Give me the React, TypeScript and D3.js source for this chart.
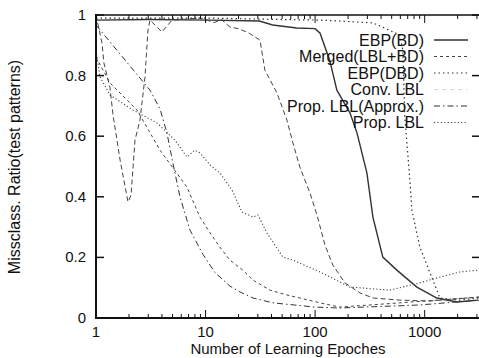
import React, { useEffect, useRef } from 'react';
import * as d3 from 'd3';

// [epoch, misclassification ratio]
const ebpBd = [
  [1, 0.983], [3, 0.985], [11, 0.983], [31, 0.98], [41, 0.967], [68, 0.957],
  [100, 0.955], [111, 0.94], [136, 0.85], [158, 0.752], [208, 0.677], [241, 0.611],
  [297, 0.479], [337, 0.333], [415, 0.201], [557, 0.158], [849, 0.102],
  [1292, 0.066], [1967, 0.053], [3124, 0.059],
];
const mergedLblBd = [
  [1, 0.861], [1.16, 0.818], [1.34, 0.776], [2.37, 0.686], [3.84, 0.554], [6.76, 0.432],
  [8.89, 0.333], [11, 0.281], [13.5, 0.234], [16.7, 0.191], [21.9, 0.158], [27.1, 0.125],
  [38.7, 0.092], [55.3, 0.076], [72.6, 0.066], [111, 0.05], [168, 0.036], [594, 0.05],
  [3124, 0.069],
];
const ebpDbd = [
  [1, 0.99], [10, 0.99], [50, 0.985], [118, 0.983], [337, 0.974], [594, 0.934],
  [632, 0.884], [659, 0.663], [733, 0.455], [764, 0.356], [904, 0.234], [1188, 0.125],
  [1377, 0.066], [2095, 0.059], [3124, 0.066],
];
const convLbl = [
  [1, 1.0], [1.134, 0.908], [1.18, 0.842], [1.34, 0.762], [1.43, 0.67], [1.66, 0.521],
  [1.96, 0.383], [2.09, 0.406], [2.27, 0.587], [2.52, 0.653], [2.8, 0.795], [2.98, 0.95],
  [3.11, 0.983], [4.0, 0.944], [4.94, 0.983], [9, 0.99], [12, 0.975], [14, 0.985],
  [16.7, 0.96], [20, 0.955], [25, 0.94], [31.4, 0.917], [34.8, 0.818], [44.8, 0.743],
  [55.3, 0.653], [62.7, 0.578], [72.6, 0.498], [89.7, 0.413], [104, 0.34], [123, 0.241],
  [145, 0.175], [187, 0.116], [256, 0.083], [337, 0.066], [594, 0.059], [1114, 0.056],
  [3124, 0.069],
];
const propLblApprox = [
  [1, 0.967], [3.11, 0.752], [3.84, 0.69], [4.44, 0.611], [5.04, 0.51], [5.84, 0.4],
  [7.21, 0.29], [9.47, 0.21], [12.2, 0.15], [16.7, 0.105], [20.6, 0.086], [27.1, 0.066],
  [41.2, 0.05], [100, 0.036], [168, 0.033], [904, 0.043], [3124, 0.059],
];
const propLbl = [
  [1, 0.884], [1.088, 0.795], [1.34, 0.736], [2.18, 0.686], [3.6, 0.644], [5.26, 0.587],
  [6.76, 0.531], [8.0, 0.554], [8.89, 0.545], [11, 0.505], [13.5, 0.479], [17.4, 0.423],
  [21.5, 0.35], [27.1, 0.333], [30.1, 0.34], [36.3, 0.281], [50.8, 0.201], [62.7, 0.191],
  [111, 0.152], [208, 0.102], [481, 0.092], [904, 0.116], [1377, 0.135], [2095, 0.152],
  [3124, 0.158],
];

const legendNames = ['EBP(BD)', 'Merged(LBL+BD)', 'EBP(DBD)', 'Conv. LBL', 'Prop. LBL(Approx.)', 'Prop. LBL'];
const yTicks = [0, 0.2, 0.4, 0.6, 0.8, 1];
const yTickLabels = ['0', '0.2', '0.4', '0.6', '0.8', '1'];
const xTicks = [1, 10, 100, 1000];
const xTickLabels = ['1', '10', '100', '1000'];

function App() {
  const chartRef = useRef<SVGSVGElement>(null);

  useEffect(() => {
    const width = 479;
    const height = 358;
    const font = '"Liberation Sans", Arial, Helvetica, sans-serif';

    const svg = d3.select(chartRef.current);
    svg.selectAll('*').remove();
    svg.attr('width', width).attr('height', height);

    const x = d3.scaleLog().domain([1, 3200]).range([96, 480]);
    const y = d3.scaleLinear().domain([0, 1]).range([318, 15]);

    const styles = [
      { color: '#333', width: 1.4, dash: null },
      { color: '#444', width: 1, dash: '3,3' },
      { color: '#333', width: 1.2, dash: '1.5,3' },
      { color: '#444', width: 1, dash: '5,3' },
      { color: '#333', width: 1, dash: '6,3,1.5,3' },
      { color: '#444', width: 1.1, dash: '1.2,2.2' },
    ];
    const allData = [ebpBd, mergedLblBd, ebpDbd, convLbl, propLblApprox, propLbl];

    const line = d3.line<number[]>()
      .x(d => x(d[0]))
      .y(d => y(d[1]));

    /* ------- CURVES -------*/
    svg.selectAll('path.curve')
      .data(allData)
      .enter()
      .append('path')
      .attr('class', 'curve')
      .attr('d', d => line(d))
      .attr('fill', 'none')
      .attr('stroke', (d, i) => styles[i].color)
      .attr('stroke-width', (d, i) => styles[i].width)
      .attr('stroke-dasharray', (d, i) => styles[i].dash);

    /* ------- FRAME + TICKS -------*/
    const frame = svg.append('g').attr('stroke', '#111');
    frame.append('line').attr('x1', 96).attr('x2', 96).attr('y1', 14).attr('y2', 319).attr('stroke-width', 2);
    frame.append('line').attr('x1', 95).attr('x2', 481).attr('y1', 318).attr('y2', 318).attr('stroke-width', 2);
    frame.append('line').attr('x1', 95).attr('x2', 481).attr('y1', 15).attr('y2', 15).attr('stroke-width', 1.6);
    frame.append('line').attr('x1', 480).attr('x2', 480).attr('y1', 15).attr('y2', 318).attr('stroke-width', 1.6);

    const minor = x.ticks().filter(t => t <= 3200);
    minor.forEach(t => {
      const big = xTicks.includes(t);
      const len = big ? 8 : 4;
      frame.append('line').attr('x1', x(t)).attr('x2', x(t)).attr('y1', 318).attr('y2', 318 - len).attr('stroke-width', 1);
      frame.append('line').attr('x1', x(t)).attr('x2', x(t)).attr('y1', 15).attr('y2', 15 + len).attr('stroke-width', 1);
    });
    yTicks.forEach(t => {
      frame.append('line').attr('x1', 96).attr('x2', 104).attr('y1', y(t)).attr('y2', y(t)).attr('stroke-width', 1.5);
      frame.append('line').attr('x1', 472).attr('x2', 480).attr('y1', y(t)).attr('y2', y(t)).attr('stroke-width', 1.5);
    });

    /* ------- TICK LABELS -------*/
    svg.selectAll('text.ylab')
      .data(yTicks)
      .enter()
      .append('text')
      .attr('class', 'ylab')
      .attr('x', 86)
      .attr('y', d => y(d) + 5)
      .attr('text-anchor', 'end')
      .style('font-family', font)
      .style('font-size', '15px')
      .style('fill', '#111')
      .text((d, i) => yTickLabels[i]);

    svg.selectAll('text.xlab')
      .data(xTicks)
      .enter()
      .append('text')
      .attr('class', 'xlab')
      .attr('x', d => x(d))
      .attr('y', 337)
      .attr('text-anchor', 'middle')
      .style('font-family', font)
      .style('font-size', '15px')
      .style('fill', '#111')
      .text((d, i) => xTickLabels[i]);

    /* ------- AXIS TITLES -------*/
    svg.append('text')
      .attr('x', 288)
      .attr('y', 354)
      .attr('text-anchor', 'middle')
      .style('font-family', font)
      .style('font-size', '15px')
      .style('fill', '#111')
      .text('Number of Learning Epoches');

    svg.append('text')
      .attr('transform', 'translate(20,167) rotate(-90)')
      .attr('text-anchor', 'middle')
      .style('font-family', font)
      .style('font-size', '16px')
      .style('fill', '#111')
      .text('Missclass. Ratio(test patterns)');

    /* ------- LEGEND -------*/
    const legend = svg.append('g');
    legendNames.forEach((name, i) => {
      const cy = 40 + i * 16.5;
      legend.append('text')
        .attr('x', 424)
        .attr('y', cy + 5.5)
        .attr('text-anchor', 'end')
        .style('font-family', font)
        .style('font-size', '16px')
        .style('fill', '#111')
        .text(name);
      legend.append('line')
        .attr('x1', 434).attr('x2', 468).attr('y1', cy).attr('y2', cy)
        .attr('stroke', i === 3 ? '#ddd' : styles[i].color)
        .attr('stroke-width', styles[i].width)
        .attr('stroke-dasharray', styles[i].dash);
    });
  }, []);

  return (
    <svg ref={chartRef} style={{ position: 'absolute', left: 0, top: 0, background: '#fff' }} />
  );
}

export default App;
